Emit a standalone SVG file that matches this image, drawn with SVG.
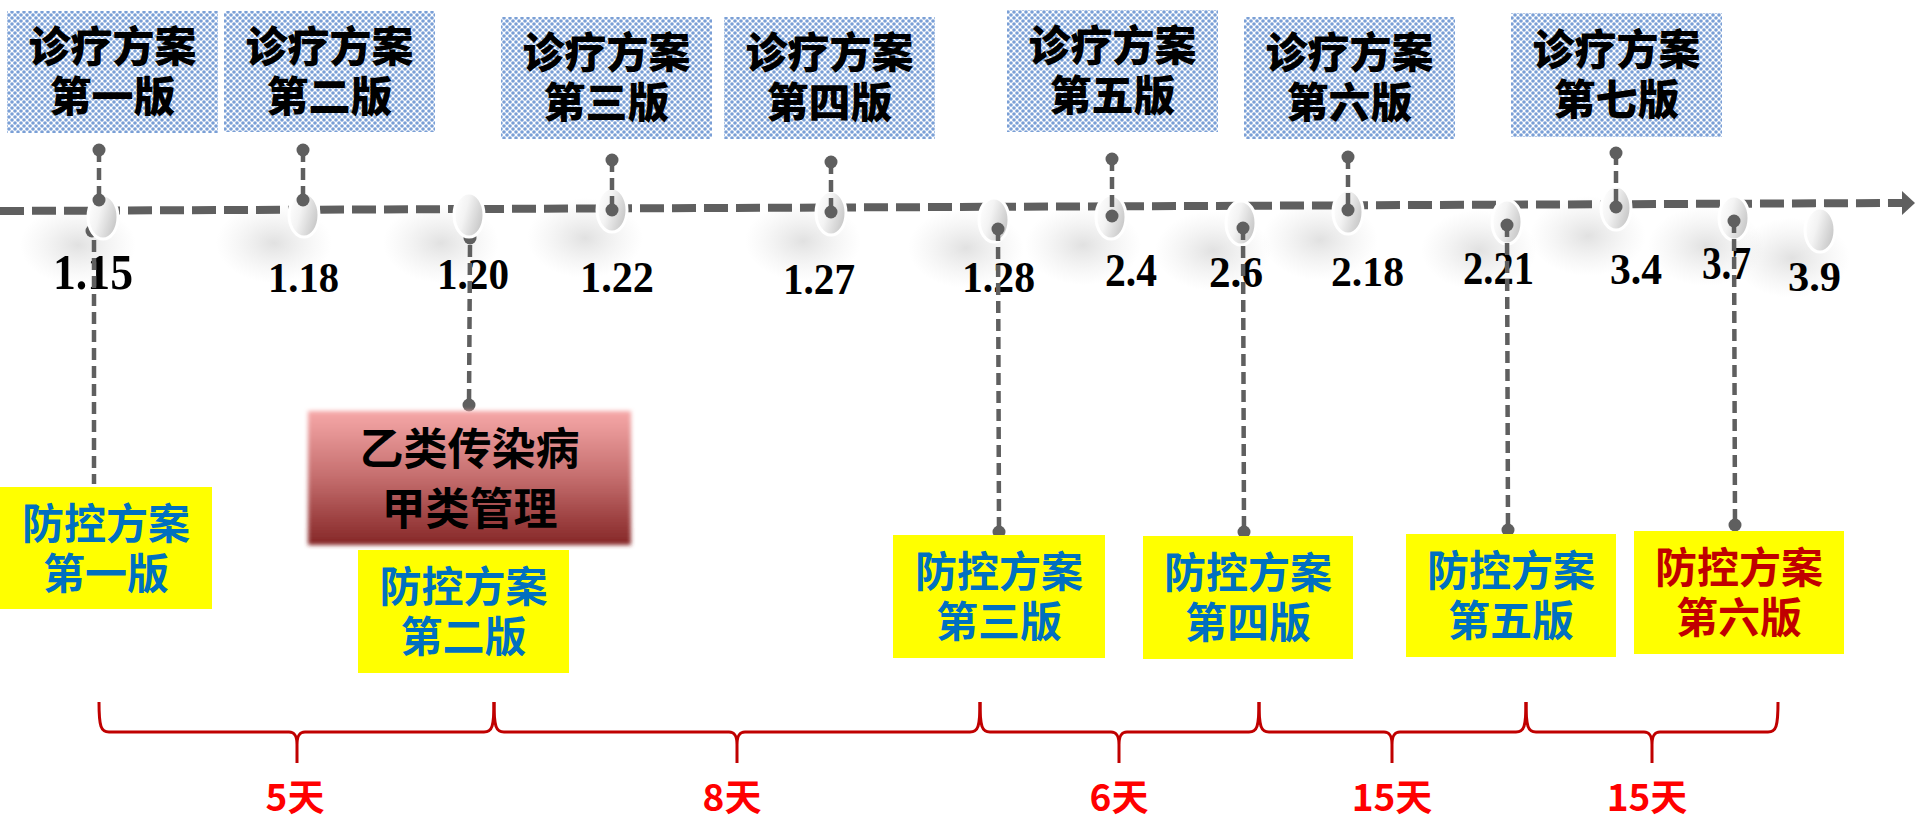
<svg xmlns="http://www.w3.org/2000/svg" width="1915" height="820" viewBox="0 0 1915 820">
<defs>
<pattern id="lattice" width="6" height="6" patternUnits="userSpaceOnUse">
<rect width="6" height="6" fill="#ffffff"/>
<circle cx="0" cy="0" r="1.8" fill="#7a9fd6"/>
<circle cx="6" cy="0" r="1.8" fill="#7a9fd6"/>
<circle cx="0" cy="6" r="1.8" fill="#7a9fd6"/>
<circle cx="6" cy="6" r="1.8" fill="#7a9fd6"/>
<circle cx="3" cy="3" r="1.8" fill="#7a9fd6"/>
</pattern>
<linearGradient id="redG" x1="0" y1="0" x2="0" y2="1">
<stop offset="0" stop-color="#f6a8a8"/>
<stop offset="0.5" stop-color="#c46d6d"/>
<stop offset="1" stop-color="#852727"/>
</linearGradient>
<linearGradient id="ovalG" x1="0" y1="0.2" x2="1" y2="0.6">
<stop offset="0" stop-color="#ffffff"/>
<stop offset="0.4" stop-color="#f3f3f3"/>
<stop offset="1" stop-color="#c6c6c6"/>
</linearGradient>
<radialGradient id="shadowG">
<stop offset="0" stop-color="#8c8c8c" stop-opacity="0.26"/>
<stop offset="0.6" stop-color="#a0a0a0" stop-opacity="0.1"/>
<stop offset="1" stop-color="#b0b0b0" stop-opacity="0"/>
</radialGradient>
<filter id="soft" x="-5%" y="-5%" width="110%" height="110%">
<feGaussianBlur stdDeviation="2"/>
</filter>
<style>
.diag{fill:url(#lattice)}
.dt{font-family:"Noto Sans CJK SC",sans-serif;font-weight:900;font-size:42px;fill:#000;text-anchor:middle}
.fk{fill:#ffff00}
.ft{font-family:"Noto Sans CJK SC",sans-serif;font-weight:700;font-size:42px;fill:#0070c0;text-anchor:middle}
.ft6{fill:#c00000}
.date{font-family:"Liberation Serif","Times New Roman",serif;font-weight:700;fill:#000}
.oval{fill:url(#ovalG);stroke:#ffffff;stroke-width:3}
.shadow{fill:url(#shadowG)}
.axis{stroke:#5f5f5f;stroke-width:8;stroke-dasharray:24 8;fill:none}
.pin{stroke:#5f5f5f;stroke-width:4.5;stroke-dasharray:12 6;fill:none}
.dot{fill:#5f5f5f}
.brace{stroke:#c00000;stroke-width:3;fill:none}
.days{font-family:"Noto Sans CJK SC",sans-serif;font-weight:700;font-size:37px;fill:#ff0000;text-anchor:middle}
</style>
</defs>

<g id="shadows">
<ellipse class="shadow" cx="78" cy="245" rx="58" ry="40"/>
<ellipse class="shadow" cx="274" cy="243" rx="58" ry="40"/>
<ellipse class="shadow" cx="441" cy="243" rx="58" ry="40"/>
<ellipse class="shadow" cx="585" cy="238" rx="58" ry="40"/>
<ellipse class="shadow" cx="803" cy="241" rx="58" ry="40"/>
<ellipse class="shadow" cx="966" cy="248" rx="58" ry="40"/>
<ellipse class="shadow" cx="1083" cy="245" rx="58" ry="40"/>
<ellipse class="shadow" cx="1213" cy="251" rx="58" ry="40"/>
<ellipse class="shadow" cx="1320" cy="240" rx="58" ry="40"/>
<ellipse class="shadow" cx="1479" cy="250" rx="58" ry="40"/>
<ellipse class="shadow" cx="1588" cy="236" rx="58" ry="40"/>
<ellipse class="shadow" cx="1706" cy="246" rx="58" ry="40"/>
<ellipse class="shadow" cx="1792" cy="258" rx="58" ry="40"/>
</g>

<g id="timeline">
<line class="axis" x1="0" y1="211" x2="1903" y2="203"/>
<polygon points="1902,191 1915,203 1902,215" fill="#5f5f5f"/>
</g>

<g id="connectors-behind">
<circle class="dot" cx="92" cy="231" r="6.5"/>
<circle class="dot" cx="470" cy="238" r="6.5"/>
</g>

<g id="ovals">
<ellipse class="oval" cx="103" cy="217" rx="15" ry="22"/>
<ellipse class="oval" cx="304" cy="215" rx="15" ry="22"/>
<ellipse class="oval" cx="469" cy="215" rx="15" ry="22"/>
<ellipse class="oval" cx="612" cy="210" rx="15" ry="22"/>
<ellipse class="oval" cx="831" cy="213" rx="15" ry="22"/>
<ellipse class="oval" cx="994" cy="220" rx="15" ry="22"/>
<ellipse class="oval" cx="1111" cy="217" rx="15" ry="22"/>
<ellipse class="oval" cx="1241" cy="223" rx="15" ry="22"/>
<ellipse class="oval" cx="1348" cy="212" rx="15" ry="22"/>
<ellipse class="oval" cx="1507" cy="222" rx="15" ry="22"/>
<ellipse class="oval" cx="1616" cy="208" rx="15" ry="22"/>
<ellipse class="oval" cx="1734" cy="218" rx="15" ry="22"/>
<ellipse class="oval" cx="1820" cy="230" rx="15" ry="22"/>
</g>

<g id="dates">
<text class="date" x="53" y="289" font-size="51" textLength="80" lengthAdjust="spacingAndGlyphs">1.15</text>
<text class="date" x="268" y="292" font-size="43" textLength="71" lengthAdjust="spacingAndGlyphs">1.18</text>
<text class="date" x="437" y="289" font-size="45" textLength="72" lengthAdjust="spacingAndGlyphs">1.20</text>
<text class="date" x="580" y="292" font-size="45" textLength="74" lengthAdjust="spacingAndGlyphs">1.22</text>
<text class="date" x="783" y="294" font-size="45" textLength="72" lengthAdjust="spacingAndGlyphs">1.27</text>
<text class="date" x="962" y="292" font-size="45" textLength="73" lengthAdjust="spacingAndGlyphs">1.28</text>
<text class="date" x="1105" y="286" font-size="46" textLength="52" lengthAdjust="spacingAndGlyphs">2.4</text>
<text class="date" x="1209" y="287" font-size="45" textLength="54" lengthAdjust="spacingAndGlyphs">2.6</text>
<text class="date" x="1331" y="286" font-size="43" textLength="73" lengthAdjust="spacingAndGlyphs">2.18</text>
<text class="date" x="1463" y="284" font-size="46" textLength="71" lengthAdjust="spacingAndGlyphs">2.21</text>
<text class="date" x="1610" y="284" font-size="45" textLength="52" lengthAdjust="spacingAndGlyphs">3.4</text>
<text class="date" x="1702" y="279" font-size="46" textLength="49" lengthAdjust="spacingAndGlyphs">3.7</text>
<text class="date" x="1788" y="291" font-size="42" textLength="53" lengthAdjust="spacingAndGlyphs">3.9</text>
</g>

<g id="connectors">
<line class="pin" x1="99" y1="150" x2="99" y2="200"/><circle class="dot" cx="99" cy="150" r="6.5"/><circle class="dot" cx="99" cy="200" r="6.5"/>
<line class="pin" x1="303" y1="150" x2="303" y2="200"/><circle class="dot" cx="303" cy="150" r="6.5"/><circle class="dot" cx="303" cy="200" r="6.5"/>
<line class="pin" x1="612" y1="160" x2="612" y2="210"/><circle class="dot" cx="612" cy="160" r="6.5"/><circle class="dot" cx="612" cy="210" r="6.5"/>
<line class="pin" x1="831" y1="162" x2="831" y2="212"/><circle class="dot" cx="831" cy="162" r="6.5"/><circle class="dot" cx="831" cy="212" r="6.5"/>
<line class="pin" x1="1112" y1="159" x2="1112" y2="216"/><circle class="dot" cx="1112" cy="159" r="6.5"/><circle class="dot" cx="1112" cy="216" r="6.5"/>
<line class="pin" x1="1348" y1="157" x2="1348" y2="210"/><circle class="dot" cx="1348" cy="157" r="6.5"/><circle class="dot" cx="1348" cy="210" r="6.5"/>
<line class="pin" x1="1616" y1="153" x2="1616" y2="207"/><circle class="dot" cx="1616" cy="153" r="6.5"/><circle class="dot" cx="1616" cy="207" r="6.5"/>
<line class="pin" x1="94" y1="240" x2="94" y2="484"/>
<line class="pin" x1="470" y1="245" x2="469" y2="405"/><circle class="dot" cx="469" cy="405" r="6.5"/>
<line class="pin" x1="998" y1="229" x2="999" y2="532"/><circle class="dot" cx="998" cy="229" r="6.5"/><circle class="dot" cx="999" cy="532" r="6.5"/>
<line class="pin" x1="1243" y1="228" x2="1244" y2="532"/><circle class="dot" cx="1243" cy="228" r="6.5"/><circle class="dot" cx="1244" cy="532" r="6.5"/>
<line class="pin" x1="1507" y1="225" x2="1508" y2="530"/><circle class="dot" cx="1507" cy="225" r="6.5"/><circle class="dot" cx="1508" cy="530" r="6.5"/>
<line class="pin" x1="1734" y1="221" x2="1735" y2="525"/><circle class="dot" cx="1734" cy="221" r="6.5"/><circle class="dot" cx="1735" cy="525" r="6.5"/>
</g>

<g id="diag1"><rect class="diag" x="7" y="11" width="211" height="122"/><text class="dt" x="112.5" y="62">诊疗方案</text><text class="dt" x="112.5" y="112">第一版</text></g>
<g id="diag2"><rect class="diag" x="224" y="11" width="211" height="121"/><text class="dt" x="329.5" y="62">诊疗方案</text><text class="dt" x="329.5" y="112">第二版</text></g>
<g id="diag3"><rect class="diag" x="501" y="17" width="211" height="122"/><text class="dt" x="606.5" y="68">诊疗方案</text><text class="dt" x="606.5" y="118">第三版</text></g>
<g id="diag4"><rect class="diag" x="724" y="17" width="211" height="122"/><text class="dt" x="829.5" y="68">诊疗方案</text><text class="dt" x="829.5" y="118">第四版</text></g>
<g id="diag5"><rect class="diag" x="1007" y="10" width="211" height="122"/><text class="dt" x="1112.5" y="61">诊疗方案</text><text class="dt" x="1112.5" y="111">第五版</text></g>
<g id="diag6"><rect class="diag" x="1244" y="17" width="211" height="122"/><text class="dt" x="1349.5" y="68">诊疗方案</text><text class="dt" x="1349.5" y="118">第六版</text></g>
<g id="diag7"><rect class="diag" x="1511" y="13" width="211" height="124"/><text class="dt" x="1616.5" y="65">诊疗方案</text><text class="dt" x="1616.5" y="115">第七版</text></g>

<g id="classB"><rect x="308" y="411" width="323" height="134" fill="url(#redG)" filter="url(#soft)"/><text class="dt" x="469.5" y="465" style="font-size:44px;font-weight:700">乙类传染病</text><text class="dt" x="469.5" y="525" style="font-size:44px;font-weight:700">甲类管理</text></g>

<g id="plan1"><rect class="fk" x="0" y="487" width="212" height="122"/><text class="ft" x="106" y="539">防控方案</text><text class="ft" x="106" y="589">第一版</text></g>
<g id="plan2"><rect class="fk" x="358" y="550" width="211" height="123"/><text class="ft" x="463.5" y="602">防控方案</text><text class="ft" x="463.5" y="652">第二版</text></g>
<g id="plan3"><rect class="fk" x="893" y="535" width="212" height="123"/><text class="ft" x="999" y="587">防控方案</text><text class="ft" x="999" y="637">第三版</text></g>
<g id="plan4"><rect class="fk" x="1143" y="536" width="210" height="123"/><text class="ft" x="1248" y="588">防控方案</text><text class="ft" x="1248" y="638">第四版</text></g>
<g id="plan5"><rect class="fk" x="1406" y="534" width="210" height="123"/><text class="ft" x="1511" y="586">防控方案</text><text class="ft" x="1511" y="636">第五版</text></g>
<g id="plan6"><rect class="fk" x="1634" y="531" width="210" height="123"/><text class="ft ft6" x="1739" y="583">防控方案</text><text class="ft ft6" x="1739" y="633">第六版</text></g>

<g id="braces">
<path class="brace" d="M99,702 C99,727 101,732 109,732 L289,732 C295,732 297,736 297,745 L297,763 M297,745 C297,736 299,732 305,732 L484,732 C492,732 494,727 494,702"/>
<path class="brace" d="M494,702 C494,727 496,732 504,732 L729,732 C735,732 737,736 737,745 L737,763 M737,745 C737,736 739,732 745,732 L970,732 C978,732 980,727 980,702"/>
<path class="brace" d="M980,702 C980,727 982,732 990,732 L1111,732 C1117,732 1119,736 1119,745 L1119,763 M1119,745 C1119,736 1121,732 1127,732 L1249,732 C1257,732 1259,727 1259,702"/>
<path class="brace" d="M1259,702 C1259,727 1261,732 1269,732 L1384,732 C1390,732 1392,736 1392,745 L1392,763 M1392,745 C1392,736 1394,732 1400,732 L1516,732 C1524,732 1526,727 1526,702"/>
<path class="brace" d="M1526,702 C1526,727 1528,732 1536,732 L1644,732 C1650,732 1652,736 1652,745 L1652,763 M1652,745 C1652,736 1654,732 1660,732 L1768,732 C1776,732 1778,727 1778,702"/>
</g>

<g id="day-labels">
<text class="days" x="295" y="811">5天</text>
<text class="days" x="732" y="811">8天</text>
<text class="days" x="1119" y="811">6天</text>
<text class="days" x="1392" y="811">15天</text>
<text class="days" x="1647" y="811">15天</text>
</g>
</svg>
